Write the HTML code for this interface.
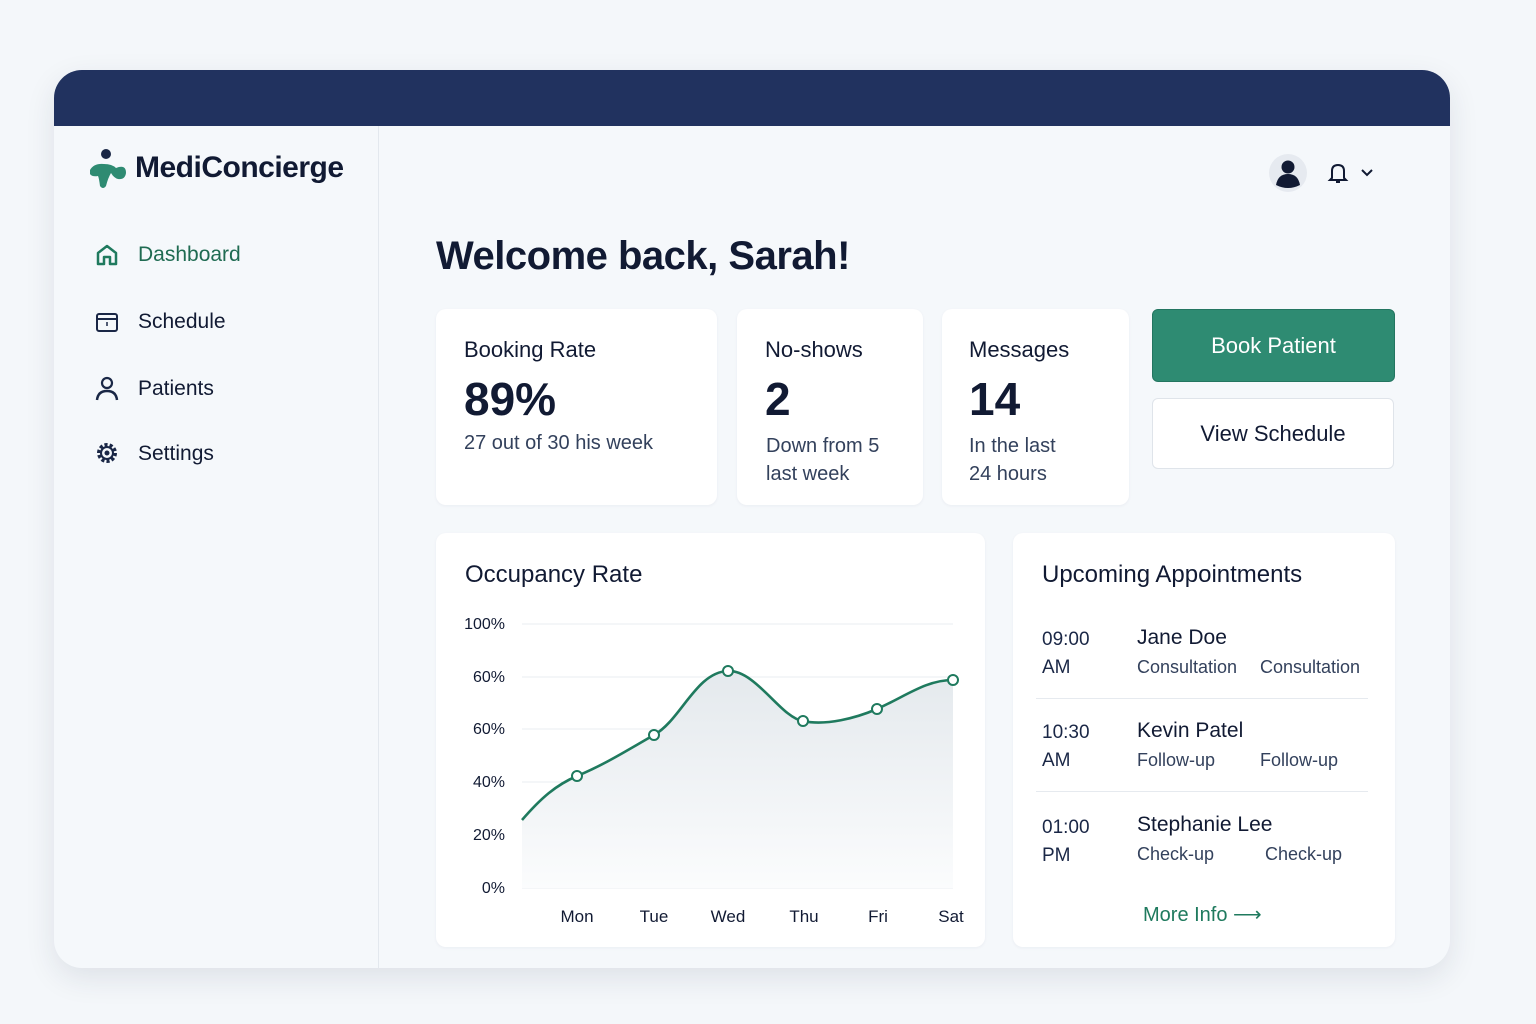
<!DOCTYPE html>
<html><head><meta charset="utf-8"><style>
*{margin:0;padding:0;box-sizing:border-box}
body{width:1536px;height:1024px;background:#f4f7fa;font-family:"Liberation Sans",sans-serif;color:#111a33;position:relative;overflow:hidden}
.abs{position:absolute}
.frame{left:54px;top:70px;width:1396px;height:898px;border-radius:28px;background:#f5f8fb;overflow:hidden;box-shadow:0 10px 30px rgba(30,40,70,.10)}
.top{left:0;top:0;width:1396px;height:56px;background:#21325f}
.card{background:#fff;border-radius:10px;box-shadow:0 1px 3px rgba(30,40,70,.05)}
.t22{font-size:22px}
.nav{font-size:21px;color:#111a33}
</style></head><body>
<div class="abs frame">
 <div class="abs top"></div>
 <div class="abs" style="left:324px;top:56px;width:1px;height:842px;background:#e3e8ee"></div>
</div>
<!-- logo -->
<svg class="abs" style="left:86px;top:146px" width="44" height="46">
 <circle cx="20" cy="8" r="5" fill="#1a2746"/>
 <path d="M4 24 Q8 17 18 18 Q26 18 30 22 Q40 18 40 27 Q39 34 32 33 Q28 32 25 27 Q22 32 20 40 Q17 44 14 40 Q13 32 12 30 Q6 31 4 28Z" fill="#2e8b72"/>
</svg>
<div class="abs" style="left:135px;top:151px;font-size:30px;font-weight:bold;color:#111a33;letter-spacing:-0.5px">MediConcierge</div>
<!-- nav -->
<svg class="abs" style="left:95px;top:243px" width="24" height="24"><path d="M3 10 L12 3 L21 10 V21 H15 V14 H9 V21 H3Z" fill="none" stroke="#1f7a5e" stroke-width="2.5" stroke-linejoin="round"/></svg>
<div class="abs nav" style="left:138px;top:243px;color:#1f6b52">Dashboard</div>
<svg class="abs" style="left:95px;top:310px" width="24" height="24"><rect x="2" y="4" width="20" height="17" rx="2" fill="none" stroke="#1a2746" stroke-width="2"/><line x1="2" y1="9" x2="22" y2="9" stroke="#1a2746" stroke-width="2"/><line x1="12" y1="12" x2="12" y2="16" stroke="#1a2746" stroke-width="1.5"/></svg>
<div class="abs nav" style="left:138px;top:310px">Schedule</div>
<svg class="abs" style="left:95px;top:376px" width="24" height="26"><circle cx="12" cy="7" r="5" fill="none" stroke="#1a2746" stroke-width="2.2"/><path d="M2 24 Q3 15 12 15 Q21 15 22 24" fill="none" stroke="#1a2746" stroke-width="2.5"/></svg>
<div class="abs nav" style="left:138px;top:377px">Patients</div>
<svg class="abs" style="left:95px;top:441px" width="24" height="24"><circle cx="12" cy="12" r="8" fill="none" stroke="#1a2746" stroke-width="4" stroke-dasharray="3 2"/><circle cx="12" cy="12" r="6" fill="none" stroke="#1a2746" stroke-width="2"/><circle cx="12" cy="12" r="2.5" fill="#1a2746"/></svg>
<div class="abs nav" style="left:138px;top:442px">Settings</div>
<!-- top right -->
<svg class="abs" style="left:1268px;top:153px" width="40" height="40"><circle cx="20" cy="20" r="19" fill="#e6eaf0"/><circle cx="20" cy="14" r="6.5" fill="#111a33"/><path d="M8 32 Q10 21 20 21 Q30 21 32 32 Q20 38 8 32Z" fill="#111a33"/></svg>
<svg class="abs" style="left:1326px;top:160px" width="52" height="26"><path d="M6 18 V11 Q6 5 12 5 Q18 5 18 11 V18 L20 20 H4Z" fill="none" stroke="#111a33" stroke-width="2"/><path d="M10 22 H14" stroke="#111a33" stroke-width="2"/><path d="M36 10 L41 15 L46 10" fill="none" stroke="#111a33" stroke-width="2"/></svg>
<div class="abs" style="left:436px;top:234px;font-size:40px;font-weight:bold;letter-spacing:-0.5px">Welcome back, Sarah!</div>
<!-- stat cards -->
<div class="abs card" style="left:436px;top:309px;width:281px;height:196px"></div>
<div class="abs t22" style="left:464px;top:337px">Booking Rate</div>
<div class="abs" style="left:464px;top:372px;font-size:46px;font-weight:bold">89%</div>
<div class="abs" style="left:464px;top:432px;font-size:20px;color:#33415c">27 out of 30 his week</div>
<div class="abs card" style="left:737px;top:309px;width:186px;height:196px"></div>
<div class="abs t22" style="left:765px;top:337px">No-shows</div>
<div class="abs" style="left:765px;top:372px;font-size:46px;font-weight:bold">2</div>
<div class="abs" style="left:766px;top:432px;font-size:20px;color:#33415c;line-height:28px">Down from 5<br>last week</div>
<div class="abs card" style="left:942px;top:309px;width:187px;height:196px"></div>
<div class="abs t22" style="left:969px;top:337px">Messages</div>
<div class="abs" style="left:969px;top:372px;font-size:46px;font-weight:bold">14</div>
<div class="abs" style="left:969px;top:432px;font-size:20px;color:#33415c;line-height:28px">In the last<br>24 hours</div>
<div class="abs" style="left:1152px;top:309px;width:243px;height:73px;background:#2e8b72;border-radius:6px;border:1px solid #237560;color:#fff;font-size:22px;text-align:center;line-height:71px">Book Patient</div>
<div class="abs" style="left:1152px;top:398px;width:242px;height:71px;background:#fff;border-radius:6px;border:1px solid #dfe4ea;font-size:22px;text-align:center;line-height:70px">View Schedule</div>
<!-- chart -->
<div class="abs card" style="left:436px;top:533px;width:549px;height:414px"></div>
<div class="abs" style="left:465px;top:561px;font-size:24px">Occupancy Rate</div>
<svg class="abs" style="left:436px;top:600px" width="549" height="340">
<defs><linearGradient id="g" x1="0" y1="0" x2="0" y2="1"><stop offset="0" stop-color="#e4e9ed"/><stop offset="1" stop-color="#fbfcfd"/></linearGradient></defs>
<g stroke="#e8edf2" stroke-width="1">
<line x1="86" y1="24" x2="517" y2="24"/><line x1="86" y1="77" x2="517" y2="77"/><line x1="86" y1="129" x2="517" y2="129"/><line x1="86" y1="182" x2="517" y2="182"/><line x1="86" y1="235" x2="517" y2="235"/><line x1="86" y1="288" x2="517" y2="288"/></g>
<g font-size="16" fill="#111a33" text-anchor="end" font-family="Liberation Sans">
<text x="69" y="29">100%</text><text x="69" y="82">60%</text><text x="69" y="134">60%</text><text x="69" y="187">40%</text><text x="69" y="240">20%</text><text x="69" y="293">0%</text></g>
<g font-size="17" fill="#111a33" text-anchor="middle" font-family="Liberation Sans">
<text x="141" y="322">Mon</text><text x="218" y="322">Tue</text><text x="292" y="322">Wed</text><text x="368" y="322">Thu</text><text x="442" y="322">Fri</text><text x="515" y="322">Sat</text></g>
<path d="M86 220 C105 198 120 185 141 176 C170 164 195 148 218 135 C245 120 260 72 292 71 C320 70 345 118 367 121 C390 126 420 118 441 109 C470 96 490 80 517 80 L517 288 L86 288Z" fill="url(#g)"/>
<path d="M86 220 C105 198 120 185 141 176 C170 164 195 148 218 135 C245 120 260 72 292 71 C320 70 345 118 367 121 C390 126 420 118 441 109 C470 96 490 80 517 80" fill="none" stroke="#1f7a5e" stroke-width="2.6"/>
<g fill="#fff" stroke="#1f7a5e" stroke-width="2"><circle cx="141" cy="176" r="5"/><circle cx="218" cy="135" r="5"/><circle cx="292" cy="71" r="5"/><circle cx="367" cy="121" r="5"/><circle cx="441" cy="109" r="5"/><circle cx="517" cy="80" r="5"/></g>
</svg>
<!-- appointments -->
<div class="abs card" style="left:1013px;top:533px;width:382px;height:414px"></div>
<div class="abs" style="left:1042px;top:561px;font-size:24px">Upcoming Appointments</div>
<div class="abs" style="left:1042px;top:626px;font-size:19px;line-height:28px;color:#1a2746">09:00<br>AM</div>
<div class="abs" style="left:1137px;top:626px;font-size:21px">Jane Doe</div>
<div class="abs" style="left:1137px;top:657px;font-size:18px;color:#33415c">Consultation</div>
<div class="abs" style="left:1260px;top:657px;font-size:18px;color:#33415c">Consultation</div>
<div class="abs" style="left:1036px;top:698px;width:332px;height:1px;background:#e6eaef"></div>
<div class="abs" style="left:1042px;top:719px;font-size:19px;line-height:28px;color:#1a2746">10:30<br>AM</div>
<div class="abs" style="left:1137px;top:719px;font-size:21px">Kevin Patel</div>
<div class="abs" style="left:1137px;top:750px;font-size:18px;color:#33415c">Follow-up</div>
<div class="abs" style="left:1260px;top:750px;font-size:18px;color:#33415c">Follow-up</div>
<div class="abs" style="left:1036px;top:791px;width:332px;height:1px;background:#e6eaef"></div>
<div class="abs" style="left:1042px;top:814px;font-size:19px;line-height:28px;color:#1a2746">01:00<br>PM</div>
<div class="abs" style="left:1137px;top:813px;font-size:21px">Stephanie Lee</div>
<div class="abs" style="left:1137px;top:844px;font-size:18px;color:#33415c">Check-up</div>
<div class="abs" style="left:1265px;top:844px;font-size:18px;color:#33415c">Check-up</div>
<div class="abs" style="left:1143px;top:902px;font-size:20px;color:#1f7a5e">More Info ⟶</div>
</body></html>
